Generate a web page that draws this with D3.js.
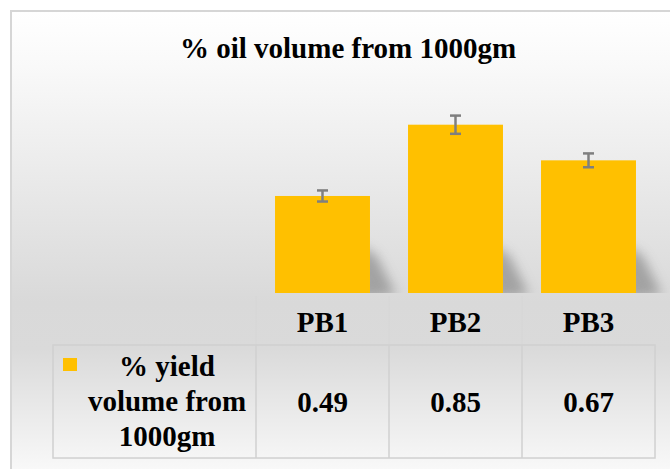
<!DOCTYPE html>
<html>
<head>
<meta charset="utf-8">
<script src="https://cdn.jsdelivr.net/npm/d3@7"></script>
<style>
  body { margin: 0; background: #fff; }
  text { font-family: "Liberation Serif", "Times New Roman", serif; font-weight: bold; fill: #000; }
</style>
</head>
<body>
<div id="chart"></div>
<script>
var categories = ["PB1", "PB2", "PB3"];
var values = [0.49, 0.85, 0.67];
var errors = [0.028, 0.046, 0.035];
var seriesName = ["% yield", "volume from", "1000gm"];
var title = "% oil volume from 1000gm";

var width = 670;
var height = 469;
var barColor = "#ffc000";

var svg = d3.select("#chart").append("svg")
  .attr("width", width)
  .attr("height", height);

var defs = svg.append("defs");

/* background gradient: white -> grey -> near white */
var grad = defs.append("linearGradient")
  .attr("id", "bg")
  .attr("x1", 0).attr("y1", 0).attr("x2", 0).attr("y2", 1);
grad.append("stop").attr("offset", "0%").attr("stop-color", "#ffffff");
grad.append("stop").attr("offset", "12%").attr("stop-color", "#f9f9f9");
grad.append("stop").attr("offset", "62%").attr("stop-color", "#d9d9d9");
grad.append("stop").attr("offset", "72%").attr("stop-color", "#dadada");
grad.append("stop").attr("offset", "100%").attr("stop-color", "#fbfbfb");

var blur = defs.append("filter")
  .attr("id", "shadowBlur")
  .attr("x", "-50%").attr("y", "-50%").attr("width", "200%").attr("height", "200%");
blur.append("feGaussianBlur").attr("stdDeviation", 6);

svg.append("rect")
  .attr("x", 11).attr("y", 11)
  .attr("width", width).attr("height", height)
  .attr("fill", "url(#bg)")
  .attr("stroke", "#d6d6d6")
  .attr("stroke-width", 2);

/* Scales */
var xScale = d3.scaleBand()
  .domain(categories)
  .range([256, 655])
  .paddingInner(0.286)
  .paddingOuter(0.143);

var yScale = d3.scaleLinear()
  .domain([0, 1])
  .range([293, 95]);

var data = categories.map(function (c, i) {
  return { name: c, value: values[i], err: errors[i] };
});

/* Title */
svg.append("text")
  .attr("x", 348)
  .attr("y", 58)
  .attr("text-anchor", "middle")
  .style("font-size", "29px")
  .text(title);

/* soft shadows behind the bars, clipped to the plot */
defs.append("clipPath").attr("id", "plotClip")
  .append("rect").attr("x", 0).attr("y", 0).attr("width", width).attr("height", yScale(0));

svg.append("g")
  .attr("clip-path", "url(#plotClip)")
  .selectAll("path")
  .data(data).enter()
  .append("path")
  .attr("d", function (d) {
    var x1 = xScale(d.name) + xScale.bandwidth();
    var y0 = yScale(0);
    var top = y0 - 48;
    return "M" + (x1 - 12) + "," + (y0 + 6) + "L" + (x1 - 12) + "," + top +
      "L" + (x1 + 6) + "," + (top + 10) + "L" + (x1 + 26) + "," + (y0 + 2) + "Z";
  })
  .attr("fill", "#8a8a8a")
  .attr("opacity", 0.7)
  .attr("filter", "url(#shadowBlur)");

/* bars */
svg.append("g")
  .selectAll("rect")
  .data(data).enter()
  .append("rect")
  .attr("x", d => xScale(d.name))
  .attr("y", d => yScale(d.value))
  .attr("width", xScale.bandwidth())
  .attr("height", d => yScale(0) - yScale(d.value))
  .attr("fill", barColor);

/* error bars */
var eb = svg.append("g")
  .attr("stroke", "#7f7f7f")
  .attr("stroke-width", 2.5)
  .selectAll("g")
  .data(data).enter()
  .append("g");

eb.append("line")
  .attr("x1", d => xScale(d.name) + xScale.bandwidth() / 2)
  .attr("x2", d => xScale(d.name) + xScale.bandwidth() / 2)
  .attr("y1", d => yScale(d.value + d.err))
  .attr("y2", d => yScale(d.value - d.err));
eb.append("line")
  .attr("x1", d => xScale(d.name) + xScale.bandwidth() / 2 - 5.5)
  .attr("x2", d => xScale(d.name) + xScale.bandwidth() / 2 + 5.5)
  .attr("y1", d => yScale(d.value + d.err))
  .attr("y2", d => yScale(d.value + d.err));
eb.append("line")
  .attr("x1", d => xScale(d.name) + xScale.bandwidth() / 2 - 5.5)
  .attr("x2", d => xScale(d.name) + xScale.bandwidth() / 2 + 5.5)
  .attr("y1", d => yScale(d.value - d.err))
  .attr("y2", d => yScale(d.value - d.err));

/* Data table */
var rowTop = 345;
var rowBottom = 458;
var tableLeft = 53;
var grid = svg.append("g")
  .attr("stroke", "#d0d0d0")
  .attr("stroke-width", 1.5)
  .attr("fill", "none");

// faint header separators
grid.selectAll("line.hdr")
  .data(categories).enter()
  .append("line")
  .attr("class", "hdr")
  .attr("x1", d => xScale(d) - xScale.step() * xScale.paddingOuter())
  .attr("x2", d => xScale(d) - xScale.step() * xScale.paddingOuter())
  .attr("y1", 296).attr("y2", rowTop)
  .attr("stroke", "#d6d6d6")
  .attr("stroke-width", 1);

grid.append("rect")
  .attr("x", tableLeft)
  .attr("y", rowTop)
  .attr("width", xScale.range()[1] - tableLeft)
  .attr("height", rowBottom - rowTop);

grid.selectAll("line.col")
  .data(categories).enter()
  .append("line")
  .attr("class", "col")
  .attr("x1", d => xScale(d) - xScale.step() * xScale.paddingOuter())
  .attr("x2", d => xScale(d) - xScale.step() * xScale.paddingOuter())
  .attr("y1", rowTop).attr("y2", rowBottom);

// category labels (header row)
svg.append("g")
  .selectAll("text")
  .data(categories).enter()
  .append("text")
  .attr("x", d => xScale(d) + xScale.bandwidth() / 2)
  .attr("y", 332)
  .attr("text-anchor", "middle")
  .style("font-size", "29px")
  .text(d => d);

// values row
svg.append("g")
  .selectAll("text")
  .data(data).enter()
  .append("text")
  .attr("x", d => xScale(d.name) + xScale.bandwidth() / 2)
  .attr("y", 412)
  .attr("text-anchor", "middle")
  .style("font-size", "29px")
  .text(d => d.value.toFixed(2));

// legend key + series name
svg.append("rect")
  .attr("x", 63).attr("y", 358)
  .attr("width", 14).attr("height", 13)
  .attr("fill", barColor);

svg.append("g")
  .selectAll("text")
  .data(seriesName).enter()
  .append("text")
  .attr("x", 167)
  .attr("y", (d, i) => 376 + i * 35)
  .attr("text-anchor", "middle")
  .style("font-size", "29px")
  .text(d => d);
</script>
</body>
</html>
